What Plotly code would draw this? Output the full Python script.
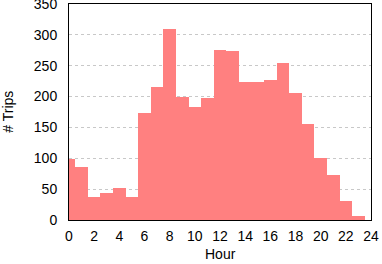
import plotly.graph_objects as go

hours = list(range(24))
trips = [99, 86, 37, 44, 52, 37, 173, 216, 310, 200, 183, 198, 276, 274, 224, 224, 227, 255, 206, 156, 101, 73, 31, 7]
x_ticks = list(range(0, 25, 2))
y_ticks = list(range(0, 351, 50))

fig = go.Figure(go.Bar(
    x=hours, y=trips, width=1,
    marker=dict(color="rgb(255,128,128)", line=dict(width=0)),
))

font = dict(family="Liberation Sans, Arial, sans-serif", size=14, color="black")
fig.update_layout(
    width=382, height=264,
    margin=dict(l=69, r=11, t=4, b=44),
    paper_bgcolor="white", plot_bgcolor="white",
    font=font, showlegend=False, bargap=0,
    annotations=[
        dict(text="Hour", xref="paper", yref="paper", x=0.5, y=-0.158,
             xanchor="center", yanchor="middle", showarrow=False, font=font),
        dict(text="# Trips", xref="paper", yref="paper", x=-0.203, y=0.5,
             xanchor="center", yanchor="middle", showarrow=False, textangle=-90, font=font),
    ],
)
fig.update_xaxes(
    range=[0, 24], tickvals=x_ticks, ticktext=[str(v) for v in x_ticks],
    showgrid=False, zeroline=False, automargin=False,
    showline=True, linecolor="black", linewidth=1, mirror=True,
    ticks="", ticklabelstandoff=3, ticklabeloverflow="allow",
)
fig.update_yaxes(
    range=[0, 350], tickvals=y_ticks, ticktext=[str(v) for v in y_ticks],
    showgrid=True, gridcolor="#c8c8c8", griddash="3px,3px", gridwidth=1,
    zeroline=False, automargin=False,
    showline=True, linecolor="black", linewidth=1, mirror=True,
    ticks="", ticklabelstandoff=8, ticklabeloverflow="allow",
)
fig.write_html("out.html", config={"displayModeBar": False},
               post_script="document.body.style.margin='0';")
